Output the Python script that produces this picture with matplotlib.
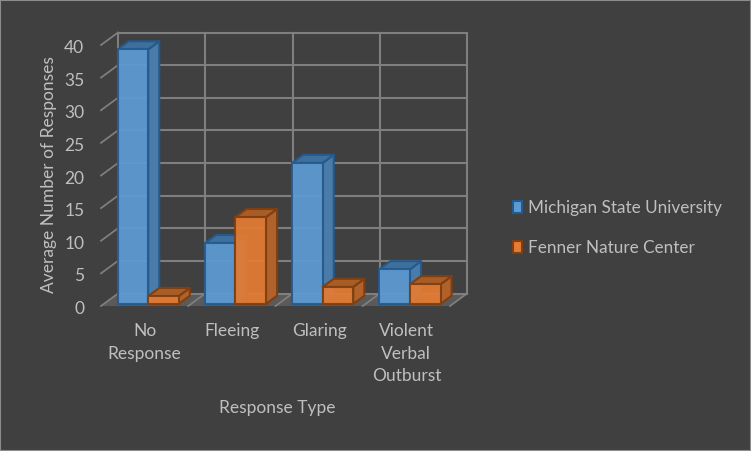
import matplotlib
matplotlib.use("Agg")
import matplotlib.pyplot as plt
from matplotlib.patches import Polygon, Patch
from matplotlib.transforms import ScaledTranslation

plt.rcParams['font.family'] = ['Lato', 'DejaVu Sans']

categories = ["No\nResponse", "Fleeing", "Glaring", "Violent\nVerbal\nOutburst"]
series_names = ["Michigan State University", "Fenner Nature Center"]
msu = [39.0, 9.3, 21.6, 5.3]
fenner = [1.2, 13.3, 2.6, 3.0]
yticks = [0, 5, 10, 15, 20, 25, 30, 35, 40]
xlabel = "Response Type"
ylabel = "Average Number of Responses"

W, H = 751, 451
BG = '#404040'
GRID = '#7F7F7F'
TXT = '#BFBFBF'

fig = plt.figure(figsize=(W/100, H/100), dpi=100, facecolor=BG)
# front plane of the oblique 3D box, in pixels
L, R, B, T = 101, 450, 306, 45
ax = fig.add_axes([L/W, 1-B/H, (R-L)/W, (B-T)/H])
ax.set_facecolor('none')
ax.set_xlim(0, 4)
ax.set_ylim(0, 40)
for s in ax.spines.values():
    s.set_visible(False)

# depth vector: one full depth unit in data units
DX = 17 / ((R-L)/4)
DY = 12.5 / ((B-T)/40)
def P(x, y, d):
    return (x + d*DX, y + d*DY)

lw = 1.5
# back wall
for v in yticks:
    ax.plot(*zip(P(0, v, 1), P(4, v, 1)), color=GRID, lw=lw, clip_on=False, zorder=1)
    ax.plot(*zip(P(0, v, 0), P(0, v, 1)), color=GRID, lw=lw*0.85, clip_on=False, zorder=1)
for i in range(5):
    ax.plot(*zip(P(i, 0, 1), P(i, 40, 1)), color=GRID, lw=lw, clip_on=False, zorder=1)
    if i > 0:
        ax.plot(*zip(P(i, 0, 0), P(i, 0, 1)), color=GRID, lw=lw*0.85, clip_on=False, zorder=1)
# floor
ax.add_patch(Polygon([P(0, 0, 0), P(4, 0, 0), P(4, 0, 1), P(0, 0, 1)], closed=True,
                     fc='#5A5A5A', ec='none', clip_on=False, zorder=0.9))

BW = 0.35
D0, D1 = 0.17, 0.82
GROUP = 0.508
styles = [
    dict(front='#5E9BD3', top='#3F6F9C', side='#4B7BA8', edge='#255A8C'),
    dict(front='#E57C33', top='#A85C26', side='#B0622A', edge='#7F3F12'),
]
for k, vals in enumerate([msu, fenner]):
    st = styles[k]
    z = 3 + k
    for i, v in enumerate(vals):
        x0 = i + GROUP - BW + k*BW
        x1 = x0 + BW
        ax.add_patch(Polygon([P(x1, 0, D0), P(x1, 0, D1), P(x1, v, D1), P(x1, v, D0)], closed=True,
                             fc=st['side'], ec=st['edge'], lw=1.5, clip_on=False, zorder=z, joinstyle='round'))
        ax.add_patch(Polygon([P(x0, v, D0), P(x1, v, D0), P(x1, v, D1), P(x0, v, D1)], closed=True,
                             fc=st['top'], ec=st['edge'], lw=1.5, clip_on=False, zorder=z, joinstyle='round'))
    fx, fy = P(0, 0, D0)
    ax.bar([i + GROUP - BW + k*BW + fx for i in range(4)], vals, width=BW, bottom=fy, align='edge',
           color=st['front'], alpha=0.93, edgecolor=st['edge'], linewidth=1.5, clip_on=False, zorder=z+0.1)

ax.set_yticks(yticks)
ax.set_yticklabels([str(v) for v in yticks], color=TXT, fontsize=12.5)
ax.set_xticks([i + 0.5 for i in range(4)])
ax.set_xticklabels(categories, color=TXT, fontsize=12.5, linespacing=1.5)
ax.tick_params(axis='both', length=0)
ax.tick_params(axis='y', pad=12)
ax.tick_params(axis='x', pad=12.5)
shift = ScaledTranslation(0, -1.5/100, fig.dpi_scale_trans)
for lab in ax.get_yticklabels():
    lab.set_transform(lab.get_transform() + shift)

fig.text(277/W, 1-408/H, xlabel, color=TXT, fontsize=12.5, ha='center', va='center')
fig.text(49.5/W, 1-175/H, ylabel, color=TXT, fontsize=12.5, ha='center', va='center', rotation=90)

handles = [Patch(facecolor=styles[i]['front'], edgecolor=styles[i]['edge'], linewidth=1.5) for i in range(2)]
fig.legend(handles, series_names, loc='center left', bbox_to_anchor=(513/W, 1-228/H), frameon=False,
           fontsize=12.3, labelcolor=TXT, handlelength=0.55, handleheight=0.7, handletextpad=0.3,
           labelspacing=1.42, borderpad=0, borderaxespad=0)

# thin outer border of the chart area
fig.add_artist(plt.Rectangle((0, 0), 1, 1, transform=fig.transFigure, fill=False, ec='#8C8C8C', lw=1.5))

fig.savefig('out.png', dpi=100, facecolor=BG)
